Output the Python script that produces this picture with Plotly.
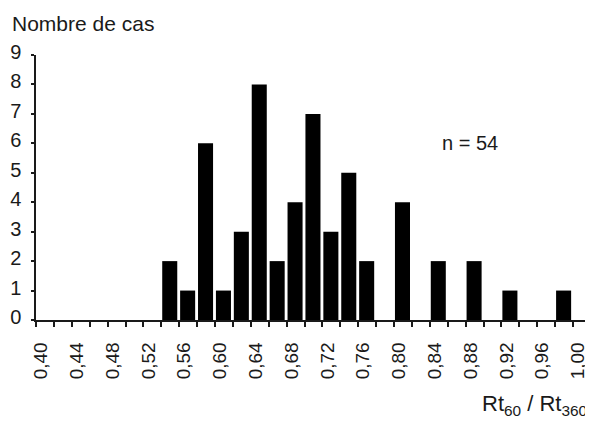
import plotly.graph_objects as go

# classes Rt60/Rt360 (borne gauche de chaque classe de 0,02) et effectifs
bin_left = [0.54, 0.56, 0.58, 0.60, 0.62, 0.64, 0.66, 0.68, 0.70, 0.72, 0.74, 0.76,
            0.78, 0.80, 0.82, 0.84, 0.86, 0.88, 0.90, 0.92, 0.94, 0.96, 0.98]
counts = [2, 1, 6, 1, 3, 8, 2, 4, 7, 3, 5, 2,
          0, 4, 0, 2, 0, 2, 0, 1, 0, 0, 1]

tick_vals = [0.40, 0.44, 0.48, 0.52, 0.56, 0.60, 0.64, 0.68, 0.72, 0.76, 0.80,
             0.84, 0.88, 0.92, 0.96, 1.00]
tick_text = ["0,40", "0,44", "0,48", "0,52", "0,56", "0,60", "0,64", "0,68", "0,72",
             "0,76", "0,80", "0,84", "0,88", "0,92", "0,96", "1,00"]
y_ticks = [0, 1, 2, 3, 4, 5, 6, 7, 8, 9]

font = "Liberation Sans, Arial, sans-serif"
ink = "#1a1a1a"

fig = go.Figure()
fig.add_trace(go.Bar(x=bin_left, y=counts, offset=0.001, width=0.0168,
                     marker=dict(color="black", line=dict(width=0)),
                     hoverinfo="x+y"))

# page body has an 8px margin, so the figure is 8px smaller than the window
fig.update_layout(
    width=585, height=414,
    margin=dict(l=28, r=2, t=47, b=102),
    paper_bgcolor="white", plot_bgcolor="white",
    showlegend=False,
    font=dict(family=font, size=20, color=ink),
    xaxis=dict(range=[0.40, 1.02], tickvals=tick_vals, ticktext=tick_text,
               tickangle=-90, ticks="outside", ticklen=5, tickwidth=1.5,
               tickcolor=ink, showline=True, linecolor=ink, linewidth=1.5,
               showgrid=False, zeroline=False, automargin=False,
               ticklabelstandoff=8, ticklabelshift=5, tickfont=dict(size=19),
               minor=dict(dtick=0.02, tick0=0.40, ticks="outside", ticklen=5,
                          tickwidth=1.5, tickcolor=ink, showgrid=False)),
    yaxis=dict(range=[0, 9], tickvals=y_ticks, ticks="outside", ticklen=3,
               tickwidth=1.5, tickcolor=ink, showline=True, linecolor=ink,
               linewidth=1.5, showgrid=False, zeroline=False, automargin=False,
               ticklabelstandoff=6, ticklabelshift=-3),
    annotations=[
        dict(text="Nombre de cas", xref="paper", yref="paper", x=-0.047, y=1.12,
             xanchor="left", yanchor="middle", showarrow=False,
             font=dict(size=21, color=ink)),
        dict(text="n = 54", xref="x", yref="y", x=0.885, y=6,
             xanchor="center", yanchor="middle", showarrow=False,
             font=dict(size=20, color=ink)),
        dict(text="Rt<sub>60</sub> / Rt<sub>360</sub>", xref="paper", yref="paper",
             x=0.996, y=-0.32, xanchor="right", yanchor="middle", showarrow=False,
             font=dict(size=22, color=ink)),
    ],
)

fig.write_html("out.html")
